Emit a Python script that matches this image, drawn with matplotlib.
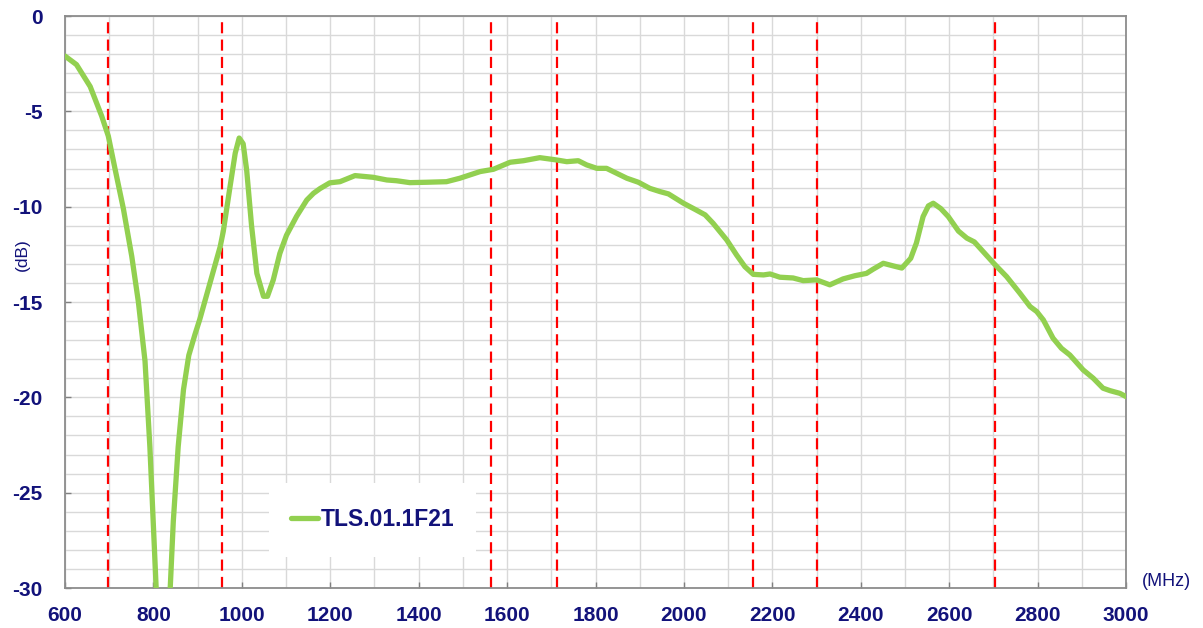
import matplotlib
matplotlib.use("Agg")
import matplotlib.pyplot as plt
from matplotlib.patches import Rectangle

freq = [600, 626, 657, 683, 698, 713, 732, 751, 766, 781, 792, 802, 810, 822, 832,
        838, 845, 856, 868, 880, 894, 905, 928, 951, 958, 973, 985, 994, 1003, 1011,
        1022, 1034, 1049, 1058, 1071, 1086, 1101, 1124, 1147, 1162, 1177, 1199, 1222,
        1256, 1297, 1328, 1350, 1380, 1418, 1463, 1493, 1539, 1569, 1607, 1637, 1674,
        1712, 1735, 1761, 1780, 1803, 1825, 1848, 1871, 1897, 1923, 1946, 1965, 1999,
        2025, 2048, 2066, 2097, 2119, 2138, 2157, 2180, 2195, 2217, 2247, 2270, 2300,
        2330, 2360, 2387, 2413, 2428, 2451, 2474, 2493, 2513, 2526, 2541, 2553, 2564,
        2581, 2598, 2621, 2640, 2657, 2677, 2702, 2730, 2760, 2783, 2798, 2813, 2835,
        2854, 2873, 2903, 2926, 2948, 2964, 2986, 3000]
gain_db = [-2.1, -2.55, -3.7, -5.25, -6.3, -8.0, -10.1, -12.6, -15.0, -18.1, -22.6, -27.8, -32.0, -36.0, -32.0,
           -30.0, -26.5, -22.6, -19.6, -17.8, -16.7, -15.9, -14.0, -12.1, -11.3, -9.0, -7.2, -6.4, -6.7, -8.1,
           -11.0, -13.5, -14.7, -14.7, -13.85, -12.45, -11.5, -10.5, -9.65, -9.3, -9.05, -8.75, -8.69,
           -8.37, -8.46, -8.6, -8.64, -8.74, -8.72, -8.69, -8.51, -8.16, -8.04, -7.67, -7.59, -7.43,
           -7.55, -7.64, -7.59, -7.81, -7.99, -7.99, -8.25, -8.51, -8.72, -9.04, -9.21, -9.33, -9.82,
           -10.14, -10.43, -10.87, -11.75, -12.53, -13.15, -13.55, -13.58, -13.53, -13.7, -13.74, -13.88, -13.84,
           -14.1, -13.79, -13.62, -13.5, -13.28, -12.97, -13.11, -13.22, -12.71, -11.9, -10.52, -9.96, -9.82,
           -10.1, -10.52, -11.28, -11.65, -11.85, -12.36, -13.0, -13.67, -14.54, -15.24, -15.5, -15.94, -16.9,
           -17.43, -17.78, -18.56, -19.0, -19.52, -19.65, -19.79, -19.96]
band_edges = [698, 955, 1564, 1712, 2156, 2300, 2703]
series_name = "TLS.01.1F21"
x_ticks = list(range(600, 3001, 200))
y_ticks = [0, -5, -10, -15, -20, -25, -30]

navy = "#12127a"
green = "#92D050"

plt.rcParams['font.family'] = ['Liberation Sans', 'DejaVu Sans']

fig = plt.figure(figsize=(12.03, 6.28), dpi=100)
ax = fig.add_axes([65/1203, 40/628, 1061/1203, 572/628])

ax.set_xlim(600, 3000)
ax.set_ylim(-30, 0)

# grid
ax.set_xticks(list(range(600, 3001, 100)), minor=True)
ax.set_yticks(list(range(-30, 1, 1)), minor=True)
ax.grid(which='minor', color='#d9d9d9', linewidth=1.0, zorder=0)
ax.grid(which='major', color='#d9d9d9', linewidth=1.0, zorder=0)
ax.tick_params(which='minor', length=0)
ax.set_axisbelow(True)

ax.set_xticks(x_ticks)
ax.set_yticks(y_ticks)
ax.set_xticklabels([str(v) for v in x_ticks])
ax.set_yticklabels([str(v) for v in y_ticks])
ax.tick_params(which='major', direction='in', length=4.5, width=1.0, color='#808080',
               labelsize=15, labelcolor=navy)
ax.tick_params(axis='x', which='major', pad=13)
ax.tick_params(axis='y', which='major', pad=16)
for lab in ax.get_xticklabels() + ax.get_yticklabels():
    lab.set_fontweight('bold')

for s in ax.spines.values():
    s.set_color('#8c8c8c')
    s.set_linewidth(1.3)

for f in band_edges:
    ax.axvline(f, color='#ff0000', linewidth=1.6, linestyle=(0, (5, 2.8)), zorder=2)

ax.plot(freq, gain_db, color=green, linewidth=3.8, solid_joinstyle='round',
        solid_capstyle='round', label=series_name, zorder=3, clip_on=True)

# legend box
ax.add_patch(Rectangle((0.1923, 0.0542), 0.1951, 0.1294, transform=ax.transAxes,
                       facecolor='white', edgecolor='none', zorder=4))
leg = ax.legend(loc='center', bbox_to_anchor=(0.2898, 0.1189), frameon=False,
                handlelength=1.18, handletextpad=0.1,
                prop={'size': 16.5, 'weight': 'bold'})
leg.set_zorder(5)
for t in leg.get_texts():
    t.set_color(navy)

fig.text(22/1203, 1 - 255/628, "(dB)", rotation=90, ha='center', va='center',
         fontsize=12.5, color=navy)
fig.text(1166/1203, 1 - 582/628, "(MHz)", ha='center', va='center',
         fontsize=13, color=navy)

fig.savefig("out.png", dpi=100, facecolor='white')
